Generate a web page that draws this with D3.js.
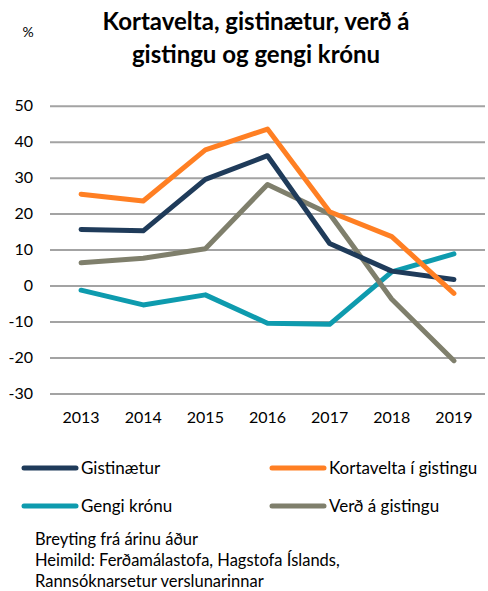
<!DOCTYPE html>
<html>
<head>
<meta charset="utf-8">
<script src="https://cdn.jsdelivr.net/npm/d3@7"></script>
<style>
  body { margin: 0; background: #fff; }
  svg { font-family: Lato, "Open Sans", sans-serif; }
</style>
</head>
<body>
<script>
// Gögn
const years = ['2013', '2014', '2015', '2016', '2017', '2018', '2019'];
const gistinaetur = [15.6, 15.2, 29.5, 36.1, 11.7, 4.0, 1.7];
const kortavelta = [25.4, 23.5, 37.7, 43.5, 20.5, 13.6, -2.2];
const gengi = [-1.3, -5.4, -2.6, -10.5, -10.8, 3.8, 8.8];
const verd = [6.3, 7.6, 10.2, 28.1, 19.9, -3.8, -20.9];
const yTicks = [50, 40, 30, 20, 10, 0, -10, -20, -30];

const series = [
  { name: 'Gistinætur', values: gistinaetur, color: '#1F3B5A' },
  { name: 'Kortavelta í gistingu', values: kortavelta, color: '#FF7F23' },
  { name: 'Gengi krónu', values: gengi, color: '#0E9BAE' },
  { name: 'Verð á gistingu', values: verd, color: '#7F7F6C' }
];
// röðun teiknunar (grá fyrir aftan)
const drawOrder = [2, 3, 0, 1];

const width = 488, height = 591;

const svg = d3.select('body')
  .append('svg')
  .attr('width', width)
  .attr('height', height);

// Titill
svg.append('text')
  .attr('x', 28).attr('y', 37)
  .attr('text-anchor', 'middle')
  .style('font-size', '14px')
  .text('%');

const title = svg.append('text')
  .attr('text-anchor', 'middle')
  .style('font-size', '24px')
  .style('font-weight', 'bold');
title.append('tspan').attr('x', 256).attr('y', 30).text('Kortavelta, gistinætur, verð á');
title.append('tspan').attr('x', 256).attr('y', 63).text('gistingu og gengi krónu');

// Kvarðar
const x = d3.scaleBand()
  .domain(years)
  .range([50, 485]);

const y = d3.scaleLinear()
  .domain([-30, 50])
  .range([393.4, 105.7]);

// Y ás með hnitalínum
svg.append('g')
  .attr('transform', 'translate(50,0)')
  .call(d3.axisLeft(y).tickValues(yTicks).tickSize(-435).tickPadding(17).tickFormat(d => String(d)))
  .call(g => g.select('.domain').remove())
  .call(g => g.selectAll('.tick line').attr('stroke', '#A3A3A3').attr('stroke-width', 2))
  .call(g => g.selectAll('.tick text').style('font-size', '16px').attr('fill', '#000').style('font-family', 'Lato, sans-serif'));

// X ás
svg.append('g')
  .attr('transform', 'translate(0,393.4)')
  .call(d3.axisBottom(x).tickSize(0).tickPadding(18))
  .call(g => g.select('.domain').remove())
  .call(g => g.selectAll('.tick text').style('font-size', '16px').attr('fill', '#000').style('font-family', 'Lato, sans-serif'));

// Línur
const line = d3.line()
  .x((d, i) => x(years[i]) + x.bandwidth() / 2)
  .y(d => y(d));

svg.append('g')
  .selectAll('path')
  .data(drawOrder.map(i => series[i]))
  .join('path')
  .attr('d', d => line(d.values))
  .attr('fill', 'none')
  .attr('stroke', d => d.color)
  .attr('stroke-width', 5)
  .attr('stroke-linejoin', 'round')
  .attr('stroke-linecap', 'round');

// Skýringar
const legend = svg.append('g')
  .selectAll('g')
  .data(series)
  .join('g')
  .attr('transform', (d, i) => `translate(${i % 2 === 0 ? 24 : 272},${i < 2 ? 468 : 506})`);

legend.append('line')
  .attr('x1', 0).attr('x2', 52)
  .attr('stroke', d => d.color)
  .attr('stroke-width', 5)
  .attr('stroke-linecap', 'round');

legend.append('text')
  .attr('x', 57).attr('y', 6)
  .style('font-size', '17px')
  .text(d => d.name);

// Neðanmálsgrein
const notes = ['Breyting frá árinu áður', 'Heimild: Ferðamálastofa, Hagstofa Íslands,', 'Rannsóknarsetur verslunarinnar'];
svg.append('g')
  .selectAll('text')
  .data(notes)
  .join('text')
  .attr('x', 35)
  .attr('y', (d, i) => 545 + i * 21)
  .style('font-size', '16.5px')
  .text(d => d);
</script>
</body>
</html>
